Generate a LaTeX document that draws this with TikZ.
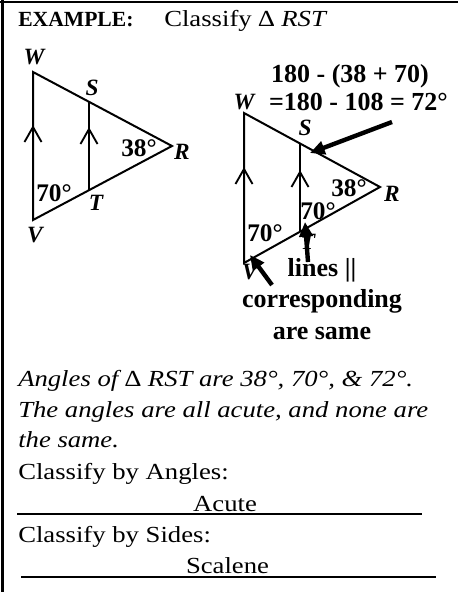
\documentclass[tikz,border=0pt]{standalone}
\usepackage{fontspec}
\setmainfont{Liberation Serif}
\newfontfamily\camb[FakeStretch=1.16]{Liberation Serif}
\usetikzlibrary{arrows.meta,calc}
\begin{document}
\begin{tikzpicture}[x=0.75pt,y=-0.75pt,
  fig/.style={line width=1.5pt, line join=miter},
  chev/.style={line width=1.4pt},
  lbl/.style={font=\bfseries\itshape\fontsize{17.5}{17.5}\selectfont, inner sep=0},
  num/.style={font=\bfseries\fontsize{19}{19}\selectfont, inner sep=0},
  note/.style={font=\bfseries\fontsize{19.5}{19.5}\selectfont, inner sep=0, anchor=base},
  bigarrow/.style={line width=3.3pt, -{Triangle[length=11pt,width=10pt]}},
  body/.style={font=\camb\fontsize{17.25}{20}\selectfont, anchor=base west, inner sep=0},
  ans/.style={font=\camb\fontsize{17.25}{20}\selectfont, anchor=base, inner sep=0},
  rule/.style={line width=0.9pt}]
\useasboundingbox (0,0) rectangle (458,592);
% frame
\draw[line width=2pt] (0,2) -- (458,2);
\draw[line width=2pt] (2.5,0) -- (2.5,592);

% title
\node[body, font=\bfseries\fontsize{16.2}{16.2}\selectfont] (ex) at (18,27) {EXAMPLE:};
\node[body] (cl) at (164,27) {Classify \upshape∆ \itshape RST};

% left figure
\coordinate (W1) at (33,72);
\coordinate (V1) at (33,220);
\coordinate (R1) at (172,146);
\coordinate (S1) at (89,102);
\coordinate (T1) at (89,190);
\draw[fig] (V1) -- (W1) -- (R1) -- cycle;
\draw[fig] (S1) -- (T1);
\coordinate (c1) at (33,127);
\coordinate (c2) at (89,129);
\draw[chev] ($(c1)+(-8.5,15)$) -- (c1) -- ($(c1)+(8.5,15)$);
\draw[chev] ($(c2)+(-8.5,15)$) -- (c2) -- ($(c2)+(8.5,15)$);
\node[lbl] (lw1) at (34,57) {W};
\node[lbl] (ls1) at (92,88) {S};
\node[lbl] (lr1) at (182,152) {R};
\node[lbl] (lt1) at (96,203) {T};
\node[lbl] (lv1) at (35,235) {V};
\node[num] (a38l) at (139,148) {38°};
\node[num] (a70l) at (54,193) {70°};

% right figure
\coordinate (W2) at (244,113);
\coordinate (V2) at (244,263);
\coordinate (R2) at (380,187);
\coordinate (S2) at (300,144);
\coordinate (T2) at (300,232);
\draw[fig] (V2) -- (W2) -- (R2) -- cycle;
\draw[fig] (S2) -- (T2);
\coordinate (c3) at (244,169);
\coordinate (c4) at (300,172);
\draw[chev] ($(c3)+(-8.5,15)$) -- (c3) -- ($(c3)+(8.5,15)$);
\draw[chev] ($(c4)+(-8.5,15)$) -- (c4) -- ($(c4)+(8.5,15)$);
\node[lbl] (lw2) at (244,102) {W};
\node[lbl] (ls2) at (305,128) {S};
\node[lbl] (lr2) at (392,194) {R};
\node[lbl] (lt2) at (308,242) {T};
\node[lbl] (lv2) at (250,272) {V};
\node[num] (a38r) at (349,188) {38°};
\node[num] (a70r) at (318,211) {70°};
\node[num] (a70v) at (265,233) {70°};

\node[note] (e1) at (350,83) {180 - (38 + 70)};
\node[note] (e2) at (358.5,110) {=180 - 108 = 72°};
\node[note] (n1) at (322,276) {lines ||};
\node[note] (n2) at (322,307) {corresponding};
\node[note] (n3) at (322,339) {are same};

\coordinate (t1) at (392,122);
\coordinate (h1) at (310,153);
\coordinate (t2) at (308,262);
\coordinate (h2) at (305,222);
\coordinate (t3) at (272,285);
\coordinate (h3) at (250,255);
\draw[bigarrow] (t1) -- (h1);
\draw[bigarrow] (t2) -- (h2);
\draw[bigarrow] (t3) -- (h3);

% body text
\node[body] (b1) at (18,386) {\itshape Angles of \upshape∆\itshape\ RST are 38°, 70°, \& 72°.};
\node[body] (b2) at (18,417) {\itshape The angles are all acute, and none are};
\node[body] (b3) at (18,447) {\itshape the same.};
\node[body] (b4) at (18,479) {Classify by Angles:};
\node[ans] (b5) at (225,511) {Acute};
\coordinate (u1a) at (17,514);
\coordinate (u1b) at (422,514);
\draw[rule] (u1a) -- (u1b);
\node[body] (b6) at (18,542) {Classify by Sides:};
\node[ans] (b7) at (227.5,573) {Scalene};
\coordinate (u2a) at (21,577);
\coordinate (u2b) at (436,577);
\draw[rule] (u2a) -- (u2b);
\end{tikzpicture}
\end{document}
